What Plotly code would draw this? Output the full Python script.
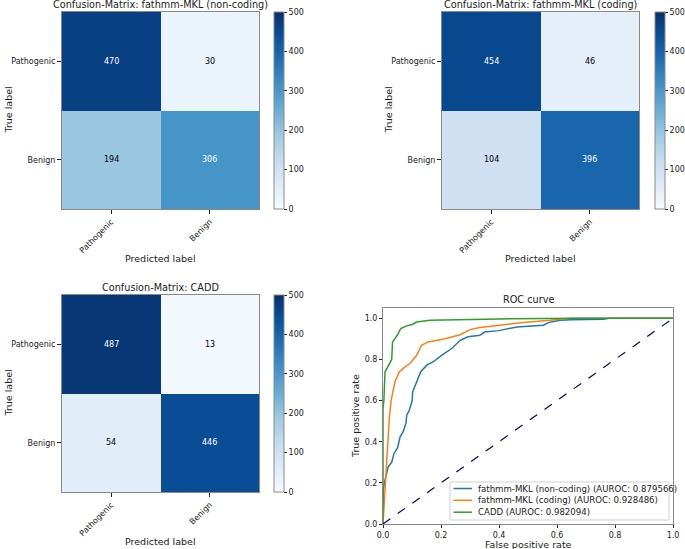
import plotly.graph_objects as go
from plotly.subplots import make_subplots
import plotly.express as px

# ---------------- data ----------------
labels = ["Pathogenic", "Benign"]
cm_noncoding = [[470, 30], [194, 306]]
cm_coding = [[454, 46], [104, 396]]
cm_cadd = [[487, 13], [54, 446]]
cm_titles = ["Confusion-Matrix: fathmm-MKL (non-coding)",
             "Confusion-Matrix: fathmm-MKL (coding)",
             "Confusion-Matrix: CADD"]
cbar_ticks = [0, 100, 200, 300, 400, 500]

fpr_noncoding = [0, 0, 0.001, 0.007, 0.018, 0.03, 0.038, 0.05, 0.059, 0.07, 0.079, 0.082, 0.09,
                 0.101, 0.102, 0.116, 0.13, 0.151, 0.175, 0.202, 0.237, 0.266, 0.293, 0.334, 0.35,
                 0.4, 0.461, 0.553, 0.57, 0.61, 0.65, 0.76, 0.78, 1.0]
tpr_noncoding = [0, 0.02, 0.165, 0.214, 0.278, 0.30, 0.343, 0.37, 0.424, 0.45, 0.489, 0.53, 0.55,
                 0.602, 0.642, 0.69, 0.74, 0.772, 0.79, 0.82, 0.853, 0.893, 0.91, 0.917, 0.933,
                 0.94, 0.958, 0.966, 0.979, 0.99, 0.993, 0.995, 1.0, 1.0]
fpr_coding = [0, 0.003, 0.007, 0.01, 0.015, 0.022, 0.028, 0.032, 0.041, 0.056, 0.076, 0.093,
              0.116, 0.133, 0.156, 0.214, 0.266, 0.3, 0.334, 0.403, 0.483, 0.576, 0.64, 1.0]
tpr_coding = [0, 0.07, 0.198, 0.25, 0.36, 0.52, 0.6, 0.626, 0.69, 0.739, 0.764, 0.78,
              0.82, 0.869, 0.885, 0.901, 0.92, 0.945, 0.955, 0.966, 0.979, 0.99, 1.0, 1.0]
fpr_cadd = [0, 0, 0.003, 0.007, 0.015, 0.024, 0.03, 0.033, 0.041, 0.05, 0.061, 0.082, 0.1,
            0.116, 0.162, 0.276, 0.4, 0.7, 1.0]
tpr_cadd = [0, 0.56, 0.6, 0.74, 0.76, 0.788, 0.8, 0.885, 0.9, 0.92, 0.95, 0.963, 0.97,
            0.982, 0.99, 0.995, 0.997, 1.0, 1.0]
roc_names = ["fathmm-MKL (non-coding) (AUROC: 0.879566)",
             "fathmm-MKL (coding) (AUROC: 0.928486)",
             "CADD (AUROC: 0.982094)"]
roc_colors = ["#1f77b4", "#ff7f0e", "#2ca02c"]
roc_ticks = [0.0, 0.2, 0.4, 0.6, 0.8, 1.0]

# ---------------- layout helpers ----------------
W, H = 685, 549
FONT = "DejaVu Sans"
FRAME = "#8a8a8a"
TXT = "#222222"
TICK = 8

def fx(p):
    return p / W

def fy(p):
    return 1 - p / H

def label(text, x, y, size, angle=0, xanchor="center"):
    fig.add_annotation(x=fx(x), y=fy(y), xref="paper", yref="paper", text=text,
                       showarrow=False, xanchor=xanchor, yanchor="middle", textangle=angle,
                       borderpad=0,
                       font=dict(size=size, family=FONT, color=TXT))

fig = make_subplots(rows=2, cols=2)

blues = px.colors.sequential.Blues
cscale = [[i / (len(blues) - 1), c] for i, c in enumerate(blues)]

# heatmap boxes in pixels: (x0, x1, y0, y1, colorbar left x)
hm_boxes = [(62, 259, 12, 209, 274), (442, 639, 12, 209, 655), (62, 259, 295, 492, 274)]
hm_pos = [(1, 1), (1, 2), (2, 1)]
mats = [cm_noncoding, cm_coding, cm_cadd]
axnames = ["", "2", "3"]

for k, (mat, (r, c), box) in enumerate(zip(mats, hm_pos, hm_boxes)):
    x0, x1, y0, y1, cbx = box
    fig.add_trace(go.Heatmap(
        z=mat, x=labels, y=labels, zmin=0, zmax=500, colorscale=cscale,
        hoverinfo="skip",
        colorbar=dict(x=fx(cbx), xanchor="left", xpad=0, ypad=0,
                      y=fy(y0), yanchor="top", len=(y1 - y0) / H, lenmode="fraction",
                      thickness=10, thicknessmode="pixels",
                      outlinewidth=1, outlinecolor=FRAME,
                      tickvals=cbar_ticks, ticks="outside", ticklen=3, tickcolor=TXT,
                      tickfont=dict(size=TICK, family=FONT, color=TXT)),
    ), row=r, col=c)
    thresh = max(max(row) for row in mat) / 2
    for i, yl in enumerate(labels):
        for j, xl in enumerate(labels):
            v = mat[i][j]
            fig.add_annotation(x=xl, y=yl, xref="x" + axnames[k], yref="y" + axnames[k],
                               text=str(v), showarrow=False,
                               font=dict(size=TICK, family=FONT,
                                         color="white" if v > thresh else "black"))
    fig.update_xaxes(domain=[fx(x0), fx(x1)], showline=True, mirror=True, linecolor=FRAME,
                     linewidth=1, ticks="outside", ticklen=4, tickcolor=TXT, tickangle=-45,
                     tickfont=dict(size=TICK, family=FONT, color=TXT), showgrid=False,
                     zeroline=False, automargin=False, row=r, col=c)
    fig.update_yaxes(domain=[fy(y1), fy(y0)], showline=True, mirror=True, linecolor=FRAME,
                     linewidth=1, ticks="outside", ticklen=4, tickcolor=TXT,
                     autorange="reversed",
                     tickfont=dict(size=TICK, family=FONT, color=TXT), showgrid=False,
                     zeroline=False, automargin=False, row=r, col=c)
    label(cm_titles[k], (x0 + x1) / 2, y0 - 8, 9.7)
    label("Predicted label", (x0 + x1) / 2, y1 + 49, 9.5)
    label("True label", x0 - 54, (y0 + y1) / 2, 9.5, angle=-90)

# ---------------- ROC ----------------
rx0, rx1, ry0, ry1 = 383, 673, 308, 524
roc_data = [(fpr_noncoding, tpr_noncoding), (fpr_coding, tpr_coding), (fpr_cadd, tpr_cadd)]
for (fx_, ty_), name, col in zip(roc_data, roc_names, roc_colors):
    fig.add_trace(go.Scatter(x=fx_, y=ty_, mode="lines", name=name, showlegend=False,
                             line=dict(color=col, width=1.5), hoverinfo="skip"), row=2, col=2)
fig.add_trace(go.Scatter(x=[0, 1], y=[0, 1], mode="lines", showlegend=False,
                         line=dict(color="navy", width=1.2, dash="dash"), hoverinfo="skip"),
              row=2, col=2)
fig.update_xaxes(domain=[fx(rx0), fx(rx1)], range=[0, 1], tickvals=roc_ticks, tickformat=".1f",
                 showline=True, mirror=True, linecolor=FRAME, linewidth=1, ticks="outside",
                 ticklen=3, tickcolor=TXT, showgrid=False, zeroline=False, automargin=False,
                 tickfont=dict(size=TICK, family=FONT, color=TXT), row=2, col=2)
fig.update_yaxes(domain=[fy(ry1), fy(ry0)], range=[0, 1.05], tickvals=roc_ticks, tickformat=".1f",
                 showline=True, mirror=True, linecolor=FRAME, linewidth=1, ticks="outside",
                 ticklen=3, tickcolor=TXT, showgrid=False, zeroline=False, automargin=False,
                 tickfont=dict(size=TICK, family=FONT, color=TXT), row=2, col=2)
label("ROC curve", (rx0 + rx1) / 2, ry0 - 9, 9.7)
label("False positive rate", (rx0 + rx1) / 2, ry1 + 20.5, 9.5)
label("True positive rate", rx0 - 28, (ry0 + ry1) / 2, 9.5, angle=-90)

# legend box (matplotlib-style compact legend)
lx0, lx1, ly0, ly1 = 450, 669, 482, 520
fig.add_shape(type="rect", xref="paper", yref="paper",
              x0=fx(lx0), x1=fx(lx1), y0=fy(ly1), y1=fy(ly0),
              line=dict(color="#d0d0d0", width=1), fillcolor="rgba(255,255,255,0.85)")
entry_y = [488.5, 500.3, 512.2]
for name, col, ey in zip(roc_names, roc_colors, entry_y):
    fig.add_shape(type="line", xref="paper", yref="paper",
                  x0=fx(453.5), x1=fx(472), y0=fy(ey), y1=fy(ey),
                  line=dict(color=col, width=1.5))
    label(name, 476.5, ey, 8.6, xanchor="left")

fig.update_layout(
    width=W, height=H, margin=dict(l=0, r=0, t=0, b=0, autoexpand=False),
    paper_bgcolor="white", plot_bgcolor="white",
    font=dict(family=FONT, color=TXT),
    showlegend=False,
)

fig.write_html("out.html", config={"displayModeBar": False},
               post_script="document.body.style.margin='0';document.body.style.overflow='hidden';")
